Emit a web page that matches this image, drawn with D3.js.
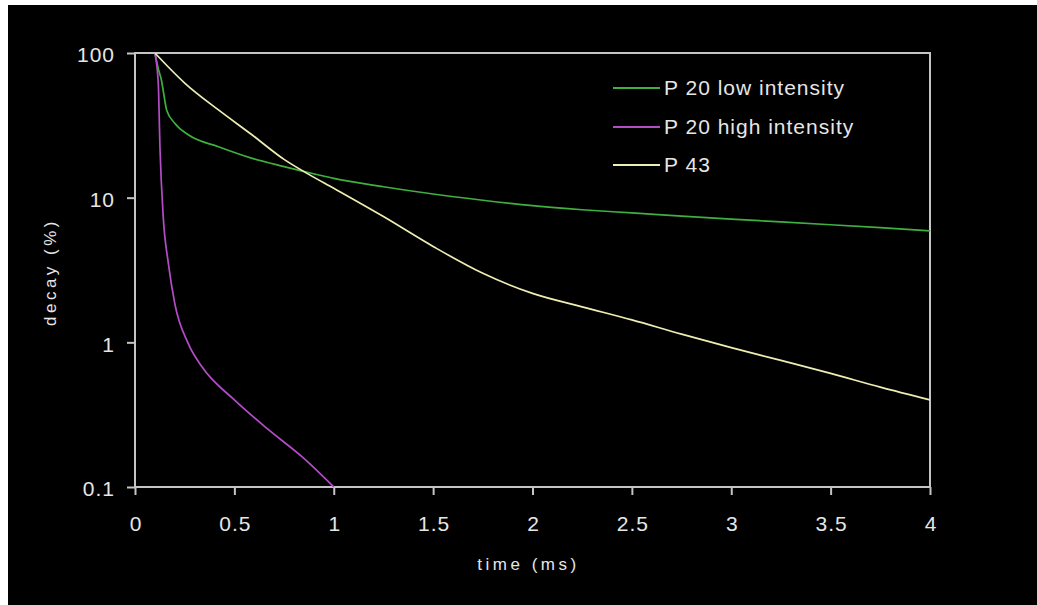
<!DOCTYPE html>
<html>
<head>
<meta charset="utf-8">
<script src="https://cdn.jsdelivr.net/npm/d3@7"></script>
<style>
  html, body { margin: 0; padding: 0; background: #ffffff; }
  svg { display: block; }
  text { font-family: "Liberation Sans", Arial, sans-serif; fill: #e6e6e6; }
</style>
</head>
<body>
<svg id="chart" width="1037" height="605"></svg>
<script>
// ---- data ----
const seriesNames = ["P 20 low intensity", "P 20 high intensity", "P 43"];

const lowTime  = [0.1, 0.117, 0.134, 0.142, 0.159, 0.2, 0.27, 0.42, 0.59, 0.75, 0.92, 1.0, 1.25, 1.5, 1.75, 2.0, 2.25, 2.5, 2.75, 3.0, 3.25, 3.5, 3.75, 4.0];
const lowValue = [100, 78, 64, 55, 40.4, 32.7, 27.1, 22.5, 18.7, 16.4, 14.4, 13.6, 11.9, 10.6, 9.6, 8.8, 8.25, 7.85, 7.45, 7.1, 6.8, 6.5, 6.2, 5.9];

const highTime  = [0.1, 0.117, 0.126, 0.142, 0.168, 0.2, 0.268, 0.336, 0.5, 0.67, 0.84, 1.0];
const highValue = [100, 62, 21.4, 7.4, 3.5, 1.86, 0.98, 0.68, 0.40, 0.25, 0.162, 0.1];

const p43Time  = [0.1, 0.25, 0.42, 0.59, 0.75, 0.87, 1.0, 1.25, 1.5, 1.75, 2.0, 2.25, 2.5, 2.75, 3.0, 3.25, 3.5, 3.75, 4.0];
const p43Value = [100, 62, 40.4, 27.1, 18.4, 14.6, 11.6, 7.4, 4.6, 3.0, 2.18, 1.76, 1.43, 1.14, 0.92, 0.75, 0.61, 0.49, 0.40];

const xTicks = [0, 0.5, 1, 1.5, 2, 2.5, 3, 3.5, 4];
const xTickLabels = ["0", "0.5", "1", "1.5", "2", "2.5", "3", "3.5", "4"];
const yTicks = [0.1, 1, 10, 100];
const yTickLabels = ["0.1", "1", "10", "100"];

const colors = ["#3fb040", "#b44cc8", "#eeeeb4"];

// ---- layout ----
const svg = d3.select("#chart");
const W = 1037, H = 605;
const plot = { left: 135, right: 930, top: 53, bottom: 487 };

svg.append("rect").attr("x", 8).attr("y", 5).attr("width", W - 8).attr("height", H - 5).attr("fill", "#000000");

const x = d3.scaleLinear().domain([0, 4]).range([plot.left, plot.right]);
const y = d3.scaleLog().domain([0.1, 100]).range([plot.bottom, plot.top]);

const axisColor = "#c4c4c4";

// axes
const yAxis = d3.axisLeft(y).tickValues(yTicks)
  .tickFormat((d, i) => yTickLabels[i]).tickSize(8).tickSizeOuter(0).tickPadding(12);
const gy = svg.append("g").attr("transform", `translate(${plot.left},0)`).call(yAxis);
gy.select(".domain").remove();
gy.selectAll(".tick line").attr("stroke", axisColor).attr("stroke-width", 2);
gy.selectAll(".tick text").attr("fill", "#e6e6e6").style("font-size", "21px")
  .style("letter-spacing", "1px").attr("dy", "0.42em")
  .style("font-family", '"Liberation Sans", Arial, sans-serif');

const xAxis = d3.axisBottom(x).tickValues(xTicks)
  .tickFormat((d, i) => xTickLabels[i]).tickSize(8).tickSizeOuter(0).tickPadding(21);
const gx = svg.append("g").attr("transform", `translate(0,${plot.bottom})`).call(xAxis);
gx.select(".domain").remove();
gx.selectAll(".tick line").attr("stroke", axisColor).attr("stroke-width", 2);
gx.selectAll(".tick text").attr("fill", "#e6e6e6").style("font-size", "21px")
  .style("letter-spacing", "1px").attr("dx", "0.5px")
  .style("font-family", '"Liberation Sans", Arial, sans-serif');

// frame
svg.append("rect")
  .attr("x", x(0)).attr("y", y(100))
  .attr("width", x(4) - x(0)).attr("height", y(0.1) - y(100))
  .attr("fill", "none").attr("stroke", axisColor).attr("stroke-width", 2);

// lines
const line = d3.line().x(d => x(d[0])).y(d => y(d[1])).curve(d3.curveMonotoneX);
const series = [
  d3.zip(lowTime, lowValue),
  d3.zip(highTime, highValue),
  d3.zip(p43Time, p43Value)
];
svg.append("clipPath").attr("id", "plotclip").append("rect")
  .attr("x", x(0)).attr("y", y(100) - 1).attr("width", x(4) - x(0)).attr("height", y(0.1) - y(100) + 2);

svg.append("g").attr("clip-path", "url(#plotclip)")
  .selectAll("path").data(series).join("path")
  .attr("d", line)
  .attr("fill", "none")
  .attr("stroke", (d, i) => colors[i])
  .attr("stroke-width", 1.7)
  .attr("stroke-linejoin", "round");

// legend
const legendRows = [88, 127, 165];
const lg = svg.append("g");
seriesNames.forEach((name, i) => {
  lg.append("line").attr("x1", 613).attr("x2", 660)
    .attr("y1", legendRows[i]).attr("y2", legendRows[i])
    .attr("stroke", colors[i]).attr("stroke-width", 2);
  lg.append("text").attr("x", 664).attr("y", legendRows[i]).attr("dy", "0.35em")
    .style("font-size", "21px").style("letter-spacing", "1px").text(name);
});

// axis titles
svg.append("text")
  .attr("x", (plot.left + plot.right) / 2 - 4).attr("y", 570)
  .attr("text-anchor", "middle")
  .style("font-size", "17px").style("letter-spacing", "3.5px")
  .text("time (ms)");

svg.append("text")
  .attr("transform", `translate(56, ${(plot.top + plot.bottom) / 2 + 2}) rotate(-90)`)
  .attr("text-anchor", "middle")
  .style("font-size", "17px").style("letter-spacing", "3.5px")
  .text("decay (%)");
</script>
</body>
</html>
